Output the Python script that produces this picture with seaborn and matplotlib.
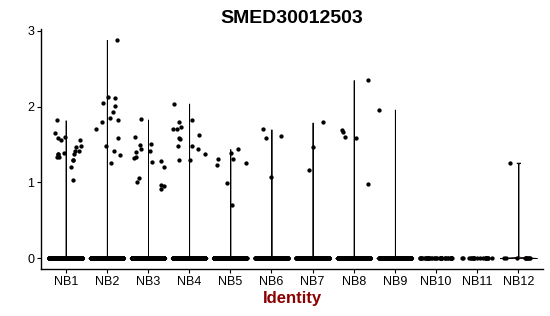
import numpy as np
import pandas as pd
import matplotlib
matplotlib.use("Agg")
import matplotlib.pyplot as plt
import seaborn as sns

categories = ["NB1", "NB2", "NB3", "NB4", "NB5", "NB6", "NB7", "NB8", "NB9", "NB10", "NB11", "NB12"]
zero_counts = [600, 500, 500, 450, 400, 300, 250, 200, 150, 40, 20, 10]
nonzero = {
    "NB1": [1.82, 1.33, 1.37, 1.37, 1.48, 1.41, 1.41, 1.03, 1.56, 1.56, 1.60, 1.65,
            1.29, 1.58, 1.47, 1.37, 1.33, 1.39, 1.30, 1.20],
    "NB2": [1.70, 2.11, 2.12, 2.05, 2.01, 2.88, 1.85, 1.93, 1.82, 1.80, 1.58, 1.48,
            1.36, 1.41, 1.25],
    "NB3": [1.49, 1.28, 1.44, 1.41, 1.33, 0.95, 0.96, 1.00, 1.06, 0.91, 1.83, 1.60,
            1.51, 1.40, 1.32, 1.27, 1.20],
    "NB4": [1.29, 1.44, 1.70, 1.73, 1.70, 2.04, 1.80, 1.82, 1.62, 1.58, 1.57, 1.48,
            1.48, 1.38, 1.30],
    "NB5": [1.39, 1.23, 0.99, 1.25, 1.44, 1.31, 1.31, 0.70],
    "NB6": [1.61, 1.59, 1.07, 1.70],
    "NB7": [1.79, 1.47, 1.16],
    "NB8": [2.35, 1.66, 1.69, 1.59, 1.60, 0.98],
    "NB9": [1.96],
    "NB10": [],
    "NB11": [],
    "NB12": [1.26],
}
palette = ["#F8766D", "#DE8C00", "#B79F00", "#7CAE00", "#00BA38", "#00C08B",
           "#00BFC4", "#00B4F0", "#619CFF", "#C77CFF", "#F564E3", "#FF64B0"]

rows = []
for cat, nz in zip(categories, zero_counts):
    for _ in range(nz):
        rows.append((cat, 0.0))
    for v in nonzero[cat]:
        rows.append((cat, v))
df = pd.DataFrame(rows, columns=["ident", "expr"])

sns.set_style("ticks")
plt.rcParams["font.family"] = ["Liberation Sans", "DejaVu Sans"]

fig = plt.figure(figsize=(5.5, 3.16), dpi=100)
ax = fig.add_axes([41 / 550, 1 - 269 / 316, 502 / 550, 240 / 316])

vdf = df[df["ident"].isin([c for c in categories if len(nonzero[c]) > 0])]
sns.violinplot(data=vdf, x="ident", y="expr", hue="ident", order=categories,
               hue_order=categories, palette=palette, density_norm="width",
               cut=0, bw_method=0.02, gridsize=400, inner=None, linewidth=0.6,
               linecolor="black", legend=False, ax=ax, width=0.9)

np.random.seed(3)
sns.stripplot(data=df, x="ident", y="expr", order=categories, color="black",
              jitter=0.4, size=3.1, linewidth=0, ax=ax)

ymax = df["expr"].max()
ax.set_ylim(-0.05 * ymax, ymax * 1.05)
ax.set_xlim(-0.6, len(categories) - 0.4)
ax.set_yticks([0, 1, 2, 3])
ax.set_yticklabels(["0", "1", "2", "3"])
ax.set_ylabel("")
ax.set_xlabel("Identity", fontsize=12, fontweight="bold", color="#8B0000", labelpad=2)
ax.set_title("SMED30012503", fontsize=14, fontweight="bold", pad=4, color="black")
ax.tick_params(axis="both", labelsize=9, length=3, width=0.8, colors="black", pad=2)
for s in ["top", "right"]:
    ax.spines[s].set_visible(False)
for s in ["left", "bottom"]:
    ax.spines[s].set_linewidth(1.0)
    ax.spines[s].set_color("black")

fig.savefig("out.png", dpi=100)
